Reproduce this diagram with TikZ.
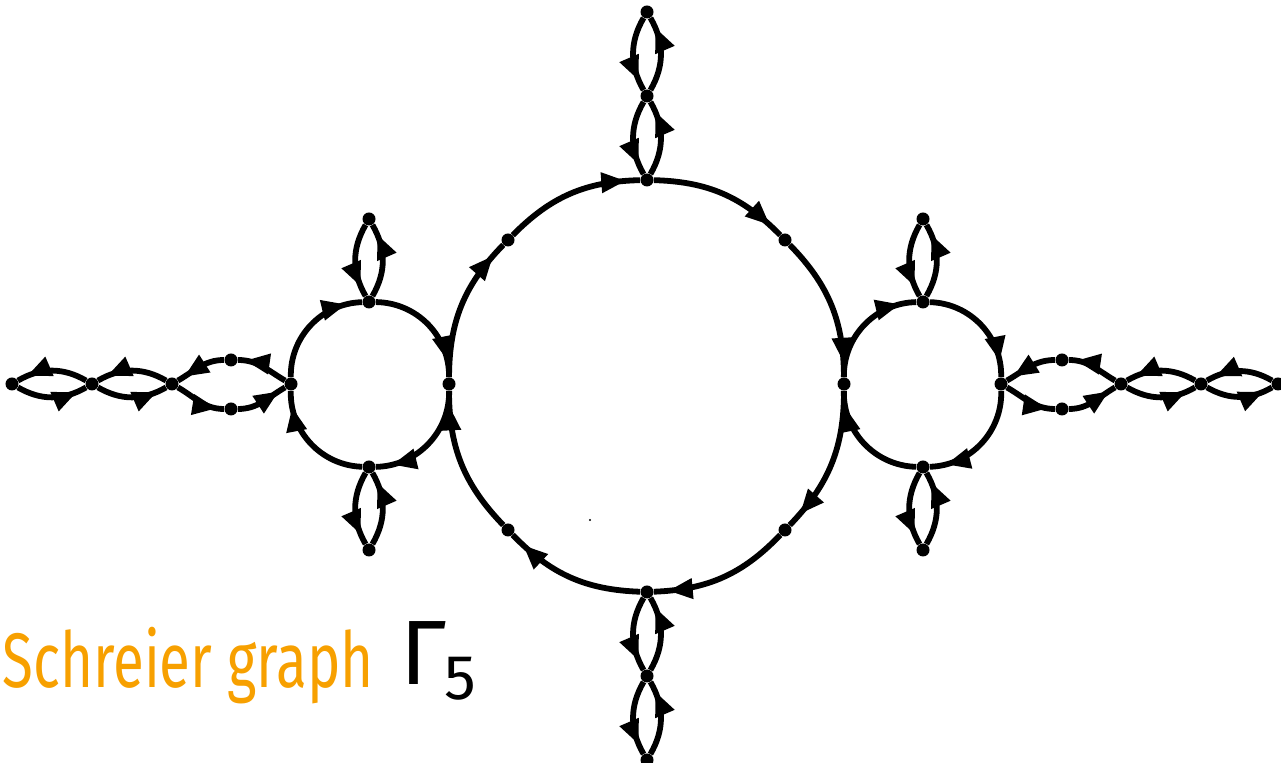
\documentclass[tikz,border=0pt]{standalone}
\usepackage{fontspec}
\newfontfamily\hand{Fira Sans}
\usetikzlibrary{arrows.meta,decorations.markings}
\definecolor{penorange}{RGB}{247,160,0}
\begin{document}
\begin{tikzpicture}[x=0.02cm,y=0.02cm,
  dot/.style={circle,fill=black,inner sep=0pt,minimum size=7.4pt},
  edge/.style={line width=3.3pt, black, postaction={decorate},
    decoration={markings, mark=at position #1 with {\arrow{Triangle[length=14pt,width=11pt]}}}},
  edge/.default=0.86,
]
\useasboundingbox (0,0) rectangle (1281,763);
% big circle
\node[dot] (L)  at (449,379) {};
\node[dot] (R)  at (844,379) {};
\node[dot] (T2) at (647,583) {};
\node[dot] (B2) at (647,171) {};
\node[dot] (TL) at (508,523) {};
\node[dot] (TR) at (785,523) {};
\node[dot] (BL) at (508,233) {};
\node[dot] (BR) at (785,233) {};
% vertical chains
\node[dot] (T1) at (647,667) {};
\node[dot] (T0) at (647,751) {};
\node[dot] (B1) at (647,87) {};
\node[dot] (B0) at (647,3) {};
% left small circle
\node[dot] (ST)  at (369,461) {};
\node[dot] (SB)  at (369,296) {};
\node[dot] (SL)  at (291,379) {};
\node[dot] (SP1) at (369,544) {};
\node[dot] (SP2) at (369,213) {};
% right small circle
\node[dot] (RT)  at (923,461) {};
\node[dot] (RB)  at (923,296) {};
\node[dot] (RR)  at (1001,379) {};
\node[dot] (RP1) at (923,544) {};
\node[dot] (RP2) at (923,213) {};
% left chain
\node[dot] (LU)  at (231,403) {};
\node[dot] (LD)  at (231,354) {};
\node[dot] (LC1) at (172,379) {};
\node[dot] (LC2) at (92,379) {};
\node[dot] (LC3) at (12,379) {};
% right chain
\node[dot] (RU)  at (1062,403) {};
\node[dot] (RD)  at (1062,354) {};
\node[dot] (RC1) at (1121,379) {};
\node[dot] (RC2) at (1201,379) {};
\node[dot] (RC3) at (1278,379) {};

% big circle edges (clockwise)
\foreach \a/\b in {L/TL, TL/T2, T2/TR, TR/R, R/BR, BR/B2, B2/BL, BL/L}
  \draw[edge=0.9] (\a) to[bend left=22] (\b);
% small circles (clockwise)
\foreach \a/\b in {SL/ST, ST/L, L/SB, SB/SL, R/RT, RT/RR, RR/RB, RB/R}
  \draw[edge] (\a) to[bend left=45] (\b);
% lenses
\foreach \a/\b in {ST/SP1, SB/SP2, RT/RP1, RB/RP2, T2/T1, T1/T0, B2/B1, B1/B0,
                   LC1/LC2, LC2/LC3, RC1/RC2, RC2/RC3} {
  \draw[edge] (\a) to[bend right=30] (\b);
  \draw[edge] (\b) to[bend right=30] (\a);
}
% left ellipse
\draw[edge] (SL) to[out=150,in=0] (LU);
\draw[edge] (LU) to[out=180,in=30] (LC1);
\draw[edge] (LC1) to[out=-30,in=180] (LD);
\draw[edge] (LD) to[out=0,in=210] (SL);
% right ellipse
\draw[edge] (RC1) to[out=150,in=0] (RU);
\draw[edge] (RU) to[out=180,in=30] (RR);
\draw[edge] (RR) to[out=-30,in=180] (RD);
\draw[edge] (RD) to[out=0,in=210] (RC1);

\fill (590,243) circle (1.2);

% label
\node[anchor=base west, text=penorange, inner sep=0pt,
      font=\hand\fontsize{44}{50}\selectfont] (title) at (2,75)
      {\scalebox{0.73}[1]{Schreier graph}};
\node[anchor=base west, inner sep=0pt,
      font=\hand\fontsize{52}{60}\selectfont] (gamma) at (400,78) {Γ};
\node[anchor=base west, inner sep=0pt,
      font=\hand\fontsize{36}{40}\selectfont] (five) at (444,63) {5};
\end{tikzpicture}
\end{document}
